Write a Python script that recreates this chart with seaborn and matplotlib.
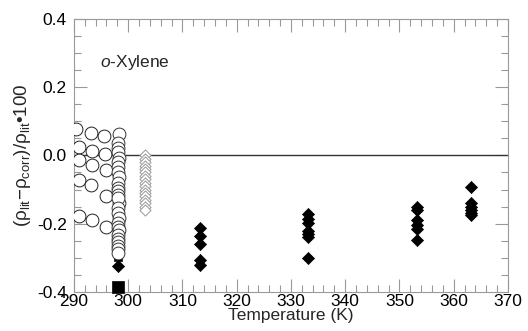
import matplotlib
matplotlib.use("Agg")
import matplotlib.pyplot as plt
import seaborn as sns
import pandas as pd
from matplotlib.ticker import MultipleLocator

# ---- data ----
circ_left_T = [290.3, 291.0, 291.0, 291.0, 291.0,
               293.2, 293.4, 293.4, 293.2, 293.4,
               295.6, 295.8, 296.0, 295.9, 295.9]
circ_left_dev = [0.078, 0.026, -0.013, -0.072, -0.177,
                 0.067, 0.012, -0.029, -0.087, -0.189,
                 0.057, 0.004, -0.043, -0.120, -0.209]

col_circ_T = [298.3, 298.15, 298.15, 298.15, 298.3, 298.15, 298.15, 298.15,
              298.3, 298.15, 298.15, 298.15, 298.15, 298.3, 298.15, 298.15,
              298.15, 298.3, 298.15, 298.15, 298.3, 298.15, 298.15, 298.15,
              298.15, 298.15, 298.15]
col_circ_dev = [0.062, 0.035, 0.022, 0.010, -0.008, -0.020, -0.035, -0.050,
                -0.064, -0.080, -0.095, -0.105, -0.115, -0.140, -0.125, -0.155,
                -0.170, -0.183, -0.198, -0.210, -0.218, -0.232, -0.245, -0.255,
                -0.265, -0.275, -0.285]

sq_T = [298.15] * 20
sq_dev = [0.032, 0.015, 0.0, -0.02, -0.04, -0.06, -0.08, -0.10, -0.12, -0.14,
          -0.16, -0.18, -0.20, -0.22, -0.24, -0.26, -0.27, -0.28, -0.29, -0.298]

big_sq_T = [298.15]
big_sq_dev = [-0.386]

dia_gray_T = [303.15] * 17
dia_gray_dev = [0.0, -0.01, -0.02, -0.03, -0.04, -0.05, -0.06, -0.07, -0.08,
                -0.09, -0.10, -0.11, -0.12, -0.13, -0.14, -0.15, -0.16]

dia_black_T = [298.15,
               313.15, 313.15, 313.15, 313.15, 313.15,
               333.15, 333.15, 333.15, 333.15, 333.15, 333.15, 333.15,
               353.15, 353.15, 353.15, 353.15, 353.15, 353.15,
               363.15, 363.15, 363.15, 363.15, 363.15, 363.15]
dia_black_dev = [-0.323,
                 -0.214, -0.236, -0.260, -0.306, -0.321,
                 -0.173, -0.187, -0.199, -0.221, -0.230, -0.240, -0.302,
                 -0.150, -0.160, -0.189, -0.204, -0.216, -0.248,
                 -0.093, -0.138, -0.150, -0.160, -0.170, -0.174]

x_ticks = [290, 300, 310, 320, 330, 340, 350, 360, 370]
y_ticks = [-0.4, -0.2, 0.0, 0.2, 0.4]

# ---- style ----
sns.set_style("ticks")
plt.rcParams['font.family'] = ['Liberation Sans', 'DejaVu Sans']
plt.rcParams['axes.unicode_minus'] = False
plt.rcParams['mathtext.fontset'] = 'custom'
plt.rcParams['mathtext.rm'] = 'Liberation Sans'
plt.rcParams['mathtext.it'] = 'Liberation Sans:italic'
plt.rcParams['mathtext.default'] = 'regular'

fig = plt.figure(figsize=(5.28, 3.31), dpi=100)
ax = fig.add_axes([0.140, 0.118, 0.822, 0.825])

ax.axhline(0, color='#333333', lw=1.0, zorder=1)

sns.scatterplot(x=sq_T, y=sq_dev, marker='s', s=30, color='black',
                edgecolor='black', linewidth=0.5, ax=ax, zorder=2)
sns.scatterplot(x=circ_left_T, y=circ_left_dev, marker='o', s=85,
                facecolor='white', edgecolor='#222222', linewidth=0.7, ax=ax, zorder=3)
sns.scatterplot(x=col_circ_T, y=col_circ_dev, marker='o', s=85,
                facecolor='white', edgecolor='#333333', linewidth=0.7, ax=ax, zorder=3)
sns.scatterplot(x=dia_gray_T, y=dia_gray_dev, marker='D', s=32,
                facecolor='white', edgecolor='#999999', linewidth=0.7, ax=ax, zorder=3)
sns.scatterplot(x=dia_black_T, y=dia_black_dev, marker='D', s=38,
                color='black', edgecolor='black', linewidth=0.5, ax=ax, zorder=4)
sns.scatterplot(x=big_sq_T, y=big_sq_dev, marker='s', s=80, color='black',
                edgecolor='black', linewidth=0.5, ax=ax, zorder=4, clip_on=False)

ax.set_xlim(290, 370)
ax.set_ylim(-0.4, 0.4)
ax.set_xticks(x_ticks)
ax.set_yticks(y_ticks)
ax.set_xticklabels([str(t) for t in x_ticks])
ax.set_yticklabels(['%.1f' % t for t in y_ticks])
ax.xaxis.set_minor_locator(MultipleLocator(2))
ax.yaxis.set_minor_locator(MultipleLocator(0.05))

for s in ax.spines.values():
    s.set_color('#999999')
    s.set_linewidth(0.8)
    s.set_visible(True)

ax.tick_params(which='both', direction='in', top=True, right=True,
               color='#999999', width=0.8, labelsize=12.5, labelcolor='black')
ax.tick_params(which='major', length=9.5)
ax.tick_params(which='minor', length=4.8)
ax.tick_params(axis='x', which='major', pad=1.5)
ax.tick_params(axis='y', which='major', pad=5)

ax.set_xlabel('Temperature (K)', fontsize=12.5, labelpad=-1)
ax.set_ylabel('(ρ$_{lit}$−ρ$_{corr}$)/ρ$_{lit}$•100', fontsize=13.5, labelpad=3)

ax.text(0.06, 0.84, '$\\it{o}$-Xylene', transform=ax.transAxes,
        fontsize=12.5, ha='left', va='center')

fig.savefig('out.png', dpi=100)
